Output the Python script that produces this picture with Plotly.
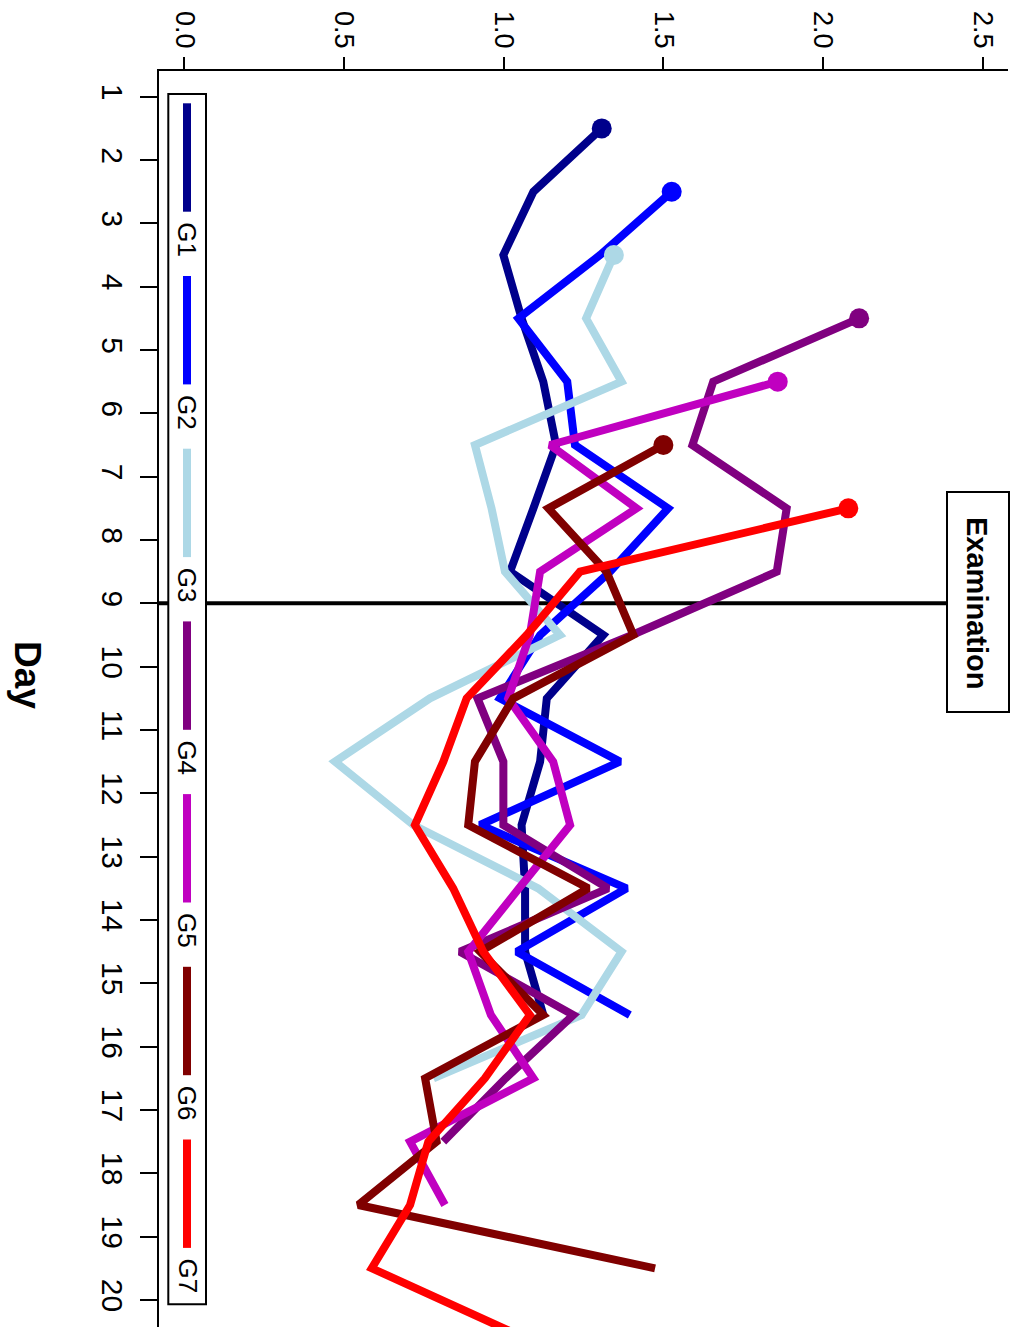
import plotly.graph_objects as go

# ---------------- data ----------------
groups = ["G1", "G2", "G3", "G4", "G5", "G6", "G7"]
colors = ["#00008B", "#0000FF", "#ADD8E6", "#800080", "#C000C0", "#800000", "#FF0000"]

days_G1 = [1.5, 2.5, 3.5, 4.5, 5.5, 6.5, 7.5, 8.5, 9.5, 10.5, 11.5, 12.5, 13.5, 14.5, 15.5]
vals_G1 = [1.307, 1.093, 0.999, 1.056, 1.124, 1.164, 1.093, 1.020, 1.312, 1.135, 1.114, 1.056, 1.067, 1.067, 1.124]

days_G2 = [2.5, 3.5, 4.5, 5.5, 6.5, 7.5, 8.5, 9.5, 10.5, 11.5, 12.5, 13.5, 14.5, 15.5]
vals_G2 = [1.526, 1.302, 1.046, 1.199, 1.223, 1.515, 1.333, 1.114, 0.988, 1.364, 0.926, 1.385, 1.041, 1.395]

days_G3 = [3.5, 4.5, 5.5, 6.5, 7.5, 8.5, 9.5, 10.5, 11.5, 12.5, 13.5, 14.5, 15.5, 16.5]
vals_G3 = [1.345, 1.258, 1.369, 0.910, 0.962, 1.004, 1.176, 0.769, 0.472, 0.717, 1.108, 1.369, 1.244, 0.780]

days_G4 = [4.5, 5.5, 6.5, 7.5, 8.5, 9.5, 10.5, 11.5, 12.5, 13.5, 14.5, 15.5, 16.5, 17.5]
vals_G4 = [2.113, 1.656, 1.591, 1.886, 1.855, 1.402, 0.918, 0.999, 0.999, 1.327, 0.863, 1.218, 1.006, 0.811]

days_G5 = [5.5, 6.5, 7.5, 8.5, 9.5, 10.5, 11.5, 12.5, 13.5, 14.5, 15.5, 16.5, 17.5, 18.5]
vals_G5 = [1.858, 1.145, 1.416, 1.114, 1.082, 1.014, 1.155, 1.208, 1.048, 0.889, 0.960, 1.093, 0.707, 0.816]

days_G6 = [6.5, 7.5, 8.5, 9.5, 10.5, 11.5, 12.5, 13.5, 14.5, 15.5, 16.5, 17.5, 18.5, 19.5]
vals_G6 = [1.500, 1.140, 1.322, 1.406, 1.030, 0.910, 0.889, 1.265, 0.926, 1.124, 0.754, 0.790, 0.545, 1.474]

days_G7 = [7.5, 8.5, 9.5, 10.5, 11.5, 12.5, 13.5, 14.5, 15.5, 16.5, 17.5, 18.5, 19.5, 20.5]
vals_G7 = [2.079, 1.239, 1.072, 0.884, 0.811, 0.722, 0.842, 0.936, 1.082, 0.941, 0.764, 0.707, 0.587, 1.023]

value_ticks = [0.0, 0.5, 1.0, 1.5, 2.0, 2.5]
value_tick_labels = ["0.0", "0.5", "1.0", "1.5", "2.0", "2.5"]
day_ticks = list(range(1, 21))
day_tick_labels = [str(d) for d in day_ticks]
exam_day = 9
exam_label = "Examination"
axis_title = "Day"

series_days = [days_G1, days_G2, days_G3, days_G4, days_G5, days_G6, days_G7]
series_vals = [vals_G1, vals_G2, vals_G3, vals_G4, vals_G5, vals_G6, vals_G7]

# ---------------- layout geometry ----------------
W, H = 1021, 1341
L, R, T, B = 159, 13, 71, 14
PW, PH = W - L - R, H - T - B
FONT = "Liberation Sans, Arial, Helvetica, sans-serif"


def xp(px):
    return (px - L) / PW


def yp(py):
    return (H - B - py) / PH


fig = go.Figure()

for name, col, d, v in zip(groups, colors, series_days, series_vals):
    sizes = [20] + [0] * (len(d) - 1)
    fig.add_trace(go.Scatter(
        x=v, y=d, mode="lines+markers", name=name,
        line=dict(color=col, width=8),
        marker=dict(color=col, size=sizes, opacity=1, line=dict(width=0)),
        cliponaxis=True, showlegend=False,
    ))

shapes = []
annotations = []

# Examination vertical line (horizontal after rotation)
shapes.append(dict(type="line", xref="paper", yref="y", x0=0, x1=xp(947),
                   y0=exam_day, y1=exam_day, line=dict(color="black", width=4),
                   layer="below"))
shapes.append(dict(type="rect", xref="paper", yref="paper",
                   x0=xp(947), x1=xp(1009), y0=yp(712), y1=yp(492),
                   line=dict(color="black", width=2), fillcolor="white"))
annotations.append(dict(xref="paper", yref="paper", x=xp(976.5), y=yp(602.5),
                        text="<b>" + exam_label + "</b>", textangle=90, showarrow=False,
                        xanchor="center", yanchor="middle",
                        font=dict(family=FONT, size=29, color="black")))

# Legend box
shapes.append(dict(type="rect", xref="paper", yref="paper",
                   x0=xp(168.3), x1=xp(206), y0=yp(1304.3), y1=yp(94),
                   line=dict(color="black", width=2), fillcolor="white"))
step = 172.7
for k, (name, col) in enumerate(zip(groups, colors)):
    top = 103.3 + k * step
    shapes.append(dict(type="line", xref="paper", yref="paper",
                       x0=xp(187), x1=xp(187), y0=yp(top), y1=yp(top + 108.4),
                       line=dict(color=col, width=8)))
    annotations.append(dict(xref="paper", yref="paper", x=xp(187), y=yp(top + 136),
                            text=name, textangle=90, showarrow=False,
                            xanchor="center", yanchor="middle",
                            font=dict(family=FONT, size=26, color="black")))

# Axis title "Day"
annotations.append(dict(xref="paper", yref="paper", x=xp(28), y=yp(675),
                        text="<b>" + axis_title + "</b>", textangle=90, showarrow=False,
                        xanchor="center", yanchor="middle",
                        font=dict(family=FONT, size=37, color="black")))

fig.update_layout(
    template="none",
    width=W, height=H,
    margin=dict(l=L, r=R, t=T, b=B, pad=0),
    plot_bgcolor="white", paper_bgcolor="white",
    showlegend=False,
    shapes=shapes,
    annotations=annotations,
    xaxis=dict(
        side="top", range=[-0.0792, 2.579],
        tickvals=value_ticks, ticktext=value_tick_labels,
        tickangle=90, ticks="outside", ticklen=12, tickwidth=2, tickcolor="black",
        showline=True, linewidth=2, linecolor="black", mirror=False,
        showgrid=False, zeroline=False, automargin=False,
        tickfont=dict(family=FONT, size=27, color="black"),
        ticklabelstandoff=-1,
    ),
    yaxis=dict(
        range=[20.427, 0.594],
        tickvals=day_ticks, ticktext=day_tick_labels,
        tickangle=90, ticks="outside", ticklen=17, tickwidth=2, tickcolor="black",
        showline=True, linewidth=2, linecolor="black", mirror=False,
        showgrid=False, zeroline=False, automargin=False,
        tickfont=dict(family=FONT, size=30, color="black"),
        ticklabelstandoff=2,
    ),
)

fig.write_html("out.html", config={"displayModeBar": False},
               post_script="document.body.style.margin='0';")
